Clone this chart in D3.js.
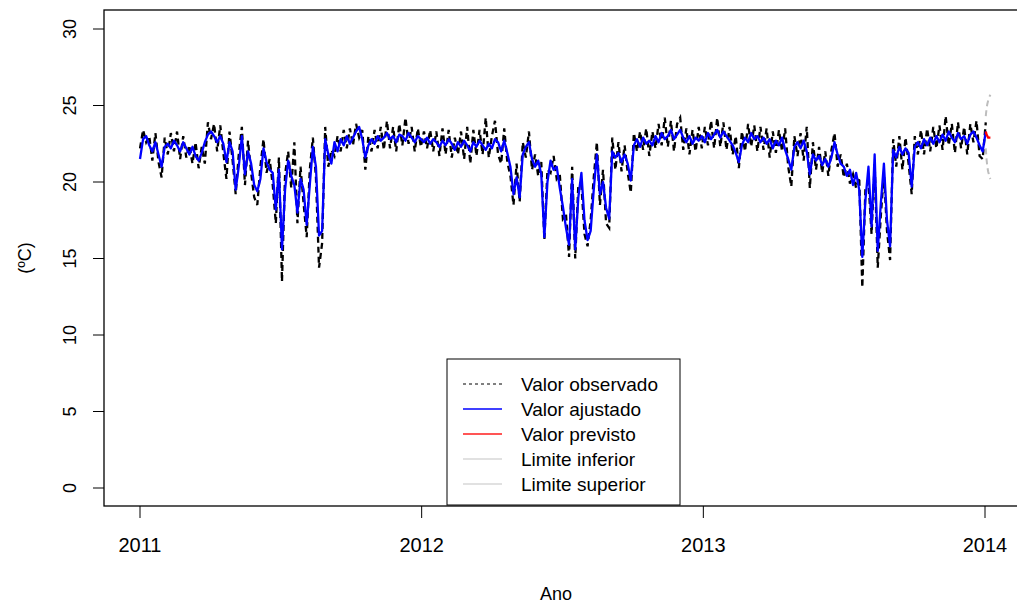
<!DOCTYPE html>
<html lang="pt">
<head>
    <meta charset="UTF-8">
    <title>Temperatura observada, ajustada e prevista</title>
    <script src="https://d3js.org/d3.v7.min.js"></script>
    <style>
        body { margin: 0; background: #fff; }
        svg { display: block; font-family: "Liberation Sans", Arial, sans-serif; }
    </style>
</head>
<body>
    <svg id="chart" width="1017" height="603"></svg>
    <script>
        // Series sampled every 4 days from 2011-01-01 (R ts, frequency 365)
        const STEP = 4;
        const observado = [
            22.2, 23.4, 22.6, 23.0, 21.4, 23.2, 21.3, 20.3, 22.9, 21.8,
            23.2, 22.0, 23.3, 21.5, 23.0, 21.6, 22.4, 21.2, 22.6, 20.9,
            22.3, 21.2, 23.9, 22.8, 23.8, 22.0, 23.7, 21.9, 20.2, 23.3,
            21.4, 19.2, 21.8, 23.6, 19.8, 22.7, 20.6, 19.0, 18.5, 21.0,
            22.8, 20.6, 21.5, 19.8, 17.3, 21.6, 13.5, 20.5, 22.0, 19.6,
            22.6, 17.3, 21.0, 18.6, 16.4, 20.8, 22.9, 20.3, 14.4, 16.0,
            23.6, 21.0, 22.1, 21.7, 23.0, 22.0, 23.4, 22.2, 23.5, 22.4,
            23.8, 22.9, 23.4, 20.8, 23.0, 22.0, 23.4, 22.2, 23.6, 22.1,
            24.0, 22.2, 23.6, 22.0, 23.8, 22.4, 24.2, 22.5, 23.6, 22.0,
            23.5, 22.3, 23.3, 22.2, 23.4, 22.0, 23.3, 21.7, 23.5, 21.8,
            23.4, 21.6, 22.9, 21.8, 23.3, 21.5, 23.6, 21.2, 23.4, 21.7,
            23.4, 21.8, 24.2, 21.6, 23.0, 24.0, 21.8, 21.2, 23.5, 21.3,
            20.4, 18.5, 21.2, 18.7, 22.6, 21.6, 23.3, 20.8, 21.8, 20.4,
            21.3, 16.2, 20.8, 20.6, 21.7, 20.2, 20.5, 17.6, 17.9, 15.1,
            21.0, 15.0, 19.8, 19.8, 16.6, 15.8, 17.5, 20.3, 22.6, 18.5,
            20.8, 17.3, 17.0, 22.9, 20.8, 22.6, 20.7, 22.4, 20.6, 19.3,
            23.2, 22.0, 23.3, 22.1, 23.5, 21.7, 23.3, 22.2, 23.8, 22.4,
            24.2, 22.3, 24.0, 22.0, 23.8, 24.2, 22.1, 23.5, 21.8, 23.4,
            22.0, 23.6, 22.2, 23.6, 22.4, 24.0, 22.2, 24.2, 22.3, 23.9,
            22.1, 23.6, 21.8, 23.0, 20.9, 23.3, 22.0, 23.8, 22.3, 23.7,
            22.0, 23.6, 22.1, 23.5, 21.6, 23.3, 21.9, 23.4, 22.0, 23.5,
            21.0, 19.7, 23.0, 21.7, 23.2, 21.4, 23.6, 19.6, 22.6, 20.8,
            22.3, 20.6, 22.0, 20.4, 22.1, 23.2, 21.0, 21.8, 20.3, 21.2,
            19.9, 20.5, 19.6, 20.3, 13.1, 19.5, 20.0, 16.6, 21.2, 14.4,
            17.8, 20.6, 16.8, 14.9, 22.8, 21.0, 23.0, 20.8, 22.9, 21.2,
            19.2, 23.0, 21.8, 23.4, 21.8, 23.5, 22.0, 23.6, 22.2, 23.7,
            22.1, 24.3, 22.4, 23.8, 21.9, 23.9, 22.2, 23.6, 21.8, 23.8,
            22.6, 24.0, 21.7, 21.5, 23.9
        ];
        const ajustado = [
            21.5, 22.8, 23.0, 22.4, 22.0, 22.6, 21.8, 21.0, 22.3, 22.5,
            22.2, 22.7, 22.4, 22.0, 22.6, 22.2, 21.8, 22.3, 21.7, 21.4,
            21.9, 22.6, 23.1, 23.3, 23.0, 22.6, 23.0, 22.5, 21.3, 22.6,
            22.0, 19.5, 21.0, 23.0, 20.5, 22.0, 21.2, 19.8, 19.4, 20.2,
            22.2, 21.3, 20.8, 20.6, 18.2, 20.8, 15.6, 19.5, 21.4, 20.4,
            19.8, 18.0, 20.2, 19.5, 17.2, 19.8, 22.3, 21.0, 16.5, 16.8,
            22.8, 21.8, 21.2, 22.6, 22.0, 22.8, 22.4, 23.0, 22.5, 22.9,
            23.3, 23.6, 22.8, 21.6, 22.4, 22.8, 22.5, 23.0, 22.7, 22.9,
            23.2, 22.8, 23.0, 22.6, 23.1, 23.0, 22.7, 23.2, 22.9, 22.6,
            23.0, 22.8, 22.6, 22.9, 22.5, 22.8, 22.6, 22.3, 22.7, 22.4,
            22.8, 22.5, 22.1, 22.6, 22.3, 22.7, 22.4, 22.0, 22.6, 22.3,
            22.7, 22.4, 22.1, 22.5, 22.2, 22.8, 22.6, 22.0, 22.7, 21.9,
            21.0, 19.2, 20.3, 19.0, 21.8, 22.3, 22.6, 21.5, 21.0, 21.4,
            20.5, 16.4, 20.0, 21.4, 20.8, 21.0, 19.6, 18.4, 17.0, 15.9,
            20.2, 15.6, 19.0, 20.6, 17.5, 16.2, 16.8, 19.5, 21.8, 19.2,
            20.0, 18.3, 17.6, 22.0, 21.6, 21.9, 21.3, 21.8, 21.2, 20.1,
            22.4, 22.8, 22.3, 22.9, 22.5, 22.7, 22.4, 23.0, 22.6, 23.2,
            22.8, 23.0, 23.4, 22.8, 23.1, 23.4, 22.9, 22.6, 23.0, 22.5,
            22.9, 22.7, 23.0, 22.6, 23.2, 22.8, 23.1, 23.4, 22.9, 23.3,
            23.0, 22.7, 22.4, 21.9, 21.3, 22.4, 22.9, 22.6, 23.2, 22.8,
            23.0, 22.6, 22.9, 22.5, 22.8, 22.2, 22.7, 22.4, 22.9, 22.1,
            21.5, 20.8, 22.3, 22.6, 22.2, 22.7, 22.0, 20.5, 21.8, 21.4,
            21.7, 21.1, 21.5, 21.0, 21.6, 22.6, 21.8, 21.2, 21.0, 20.4,
            20.8, 19.8, 20.6, 19.5, 15.1, 18.8, 21.0, 17.1, 21.8, 15.5,
            18.6, 21.2, 17.5, 15.8, 22.1, 21.6, 22.3, 21.8, 22.2, 21.9,
            19.7, 22.3, 22.6, 22.2, 22.8, 22.4, 22.9, 22.5, 23.0, 22.6,
            23.1, 22.7, 23.3, 22.9, 22.6, 23.2, 22.8, 23.0, 22.5, 23.1,
            23.3, 22.9, 22.4, 22.0, 23.3
        ];
        // daily forecast from the end of the series
        const prevDia0 = 1096;
        const previsto = [23.3, 23.1, 23.0, 22.9, 22.9, 22.9, 22.9];
        const limInferior = [22.2, 21.5, 21.0, 20.7, 20.5, 20.3, 20.2];
        const limSuperior = [24.3, 24.8, 25.1, 25.3, 25.5, 25.6, 25.7];

        const xTicks = [2011, 2012, 2013, 2014];
        const yTicks = [0, 5, 10, 15, 20, 25, 30];
        const legendItems = [
            { text: "Valor observado", color: "#000", dash: "3,3", width: 1 },
            { text: "Valor ajustado", color: "#0000ff", dash: null, width: 1.3 },
            { text: "Valor previsto", color: "#ff5555", dash: null, width: 2.2 },
            { text: "Limite inferior", color: "#c4c4c4", dash: null, width: 1.2 },
            { text: "Limite superior", color: "#c4c4c4", dash: null, width: 1.2 }
        ];

        const svg = d3.select("#chart");
        const box = { left: 104, top: 10, right: 1030, bottom: 506 };

        const x = d3.scaleLinear().domain([2011, 2014]).range([140, 985]);
        const y = d3.scaleLinear().domain([0, 30]).range([488, 29]);
        const toYear = d => 2011 + d / 365;

        svg.append("rect").attr("width", 1017).attr("height", 603).attr("fill", "#fff");

        svg.append("defs").append("clipPath").attr("id", "clip")
            .append("rect")
            .attr("x", box.left).attr("y", box.top)
            .attr("width", box.right - box.left).attr("height", box.bottom - box.top);

        const plot = svg.append("g").attr("clip-path", "url(#clip)");

        const line = d3.line().x(d => x(d.t)).y(d => y(d.v));

        const obsData = observado.map((v, i) => ({ t: toYear(i * STEP), v }));
        const fitData = ajustado.map((v, i) => ({ t: toYear(i * STEP), v }));
        const fc = arr => arr.map((v, i) => ({ t: toYear(prevDia0 + i), v }));

        plot.append("path").attr("d", line(obsData))
            .attr("fill", "none").attr("stroke", "#000")
            .attr("stroke-width", 2.3).attr("stroke-dasharray", "6,4");

        plot.append("path").attr("d", line(fitData))
            .attr("fill", "none").attr("stroke", "#0000ff")
            .attr("stroke-width", 2.3).attr("stroke-linejoin", "round");

        plot.append("path").attr("d", line(fc(limInferior)))
            .attr("fill", "none").attr("stroke", "#bdbdbd")
            .attr("stroke-width", 2).attr("stroke-dasharray", "6,4");
        plot.append("path").attr("d", line(fc(limSuperior)))
            .attr("fill", "none").attr("stroke", "#bdbdbd")
            .attr("stroke-width", 2).attr("stroke-dasharray", "6,4");
        plot.append("path").attr("d", line(fc(previsto)))
            .attr("fill", "none").attr("stroke", "#ff0000")
            .attr("stroke-width", 2.3);

        // plot box
        svg.append("rect")
            .attr("x", box.left).attr("y", box.top)
            .attr("width", box.right - box.left).attr("height", box.bottom - box.top)
            .attr("fill", "none").attr("stroke", "#000").attr("stroke-width", 1.3);

        // y axis
        const yAxis = svg.append("g");
        yAxis.selectAll("line").data(yTicks).enter().append("line")
            .attr("x1", box.left - 11).attr("x2", box.left)
            .attr("y1", d => y(d)).attr("y2", d => y(d))
            .attr("stroke", "#000").attr("stroke-width", 1);
        yAxis.selectAll("text").data(yTicks).enter().append("text")
            .attr("transform", d => `translate(76,${y(d)}) rotate(-90)`)
            .attr("text-anchor", "middle")
            .attr("font-size", 18)
            .text(d => d);

        // x axis
        const xAxis = svg.append("g");
        xAxis.selectAll("line").data(xTicks).enter().append("line")
            .attr("x1", d => x(d)).attr("x2", d => x(d))
            .attr("y1", box.bottom).attr("y2", box.bottom + 12)
            .attr("stroke", "#000").attr("stroke-width", 1);
        xAxis.selectAll("text").data(xTicks).enter().append("text")
            .attr("x", d => x(d)).attr("y", 552)
            .attr("text-anchor", "middle")
            .attr("font-size", 20)
            .text(d => d);

        svg.append("text")
            .attr("x", 556).attr("y", 600)
            .attr("text-anchor", "middle").attr("font-size", 18)
            .text("Ano");

        svg.append("text")
            .attr("transform", "translate(31,258) rotate(-90)")
            .attr("text-anchor", "middle").attr("font-size", 18)
            .text("(ºC)");

        // legend
        const lg = svg.append("g");
        lg.append("rect")
            .attr("x", 447).attr("y", 359).attr("width", 233).attr("height", 146)
            .attr("fill", "#fff").attr("stroke", "#000").attr("stroke-width", 1);
        const rows = lg.selectAll("g.item").data(legendItems).enter().append("g")
            .attr("class", "item")
            .attr("transform", (d, i) => `translate(0,${384 + i * 25})`);
        rows.append("line")
            .attr("x1", 463).attr("x2", 502).attr("y1", 0).attr("y2", 0)
            .attr("stroke", d => d.color)
            .attr("stroke-width", d => d.width)
            .attr("stroke-dasharray", d => d.dash);
        rows.append("text")
            .attr("x", 521).attr("y", 7)
            .attr("font-size", 19)
            .text(d => d.text);
    </script>
</body>
</html>
